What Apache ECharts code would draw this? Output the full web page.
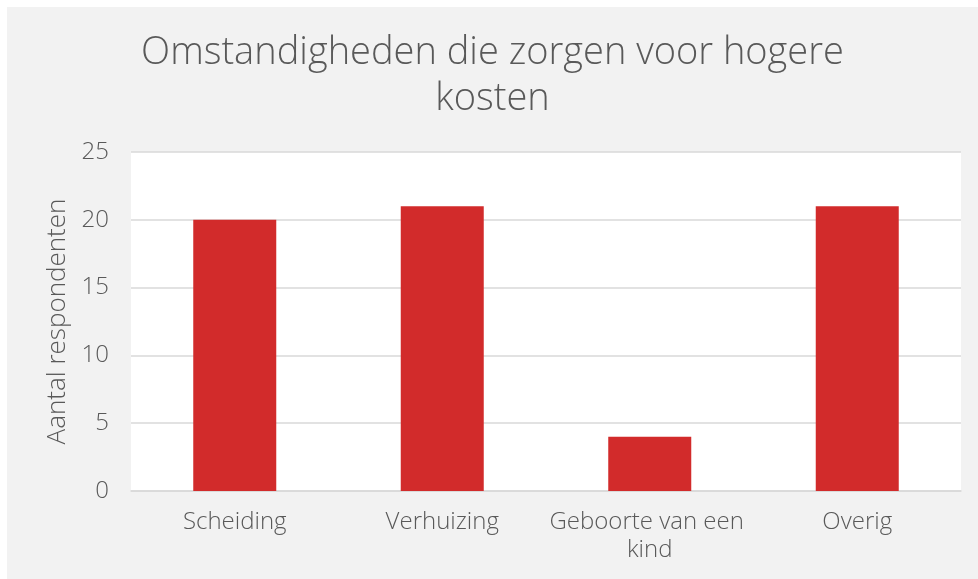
<!DOCTYPE html>
<html>
<head>
<meta charset="utf-8">
<script src="https://cdn.jsdelivr.net/npm/echarts@6/dist/echarts.min.js"></script>
<style>
  html, body { margin: 0; padding: 0; background: #ffffff; }
  #chart { position: absolute; left: 7px; top: 7px; width: 971px; height: 572px; background: #f2f2f2; }
</style>
</head>
<body>
<div id="chart"></div>
<script>
// data
var categories = ['Scheiding', 'Verhuizing', 'Geboorte van een kind', 'Overig'];
var counts = [20, 21, 4, 21];
var titleText = 'Omstandigheden die zorgen voor hogere\nkosten';
var yName = 'Aantal respondenten';

var myChart = echarts.init(document.getElementById('chart'));
var textColor = '#595959';
var font = 'Open Sans';
var option = {
  backgroundColor: '#f2f2f2',
  textStyle: { fontFamily: font },
  title: {
    text: titleText,
    left: 'center',
    top: 18,
    textStyle: {
      fontFamily: font,
      fontSize: 38,
      fontWeight: 300,
      color: textColor,
      lineHeight: 46
    }
  },
  grid: {
    left: 124,
    right: 17,
    top: 145,
    bottom: 88,
    show: true,
    backgroundColor: '#ffffff',
    borderWidth: 0
  },
  xAxis: {
    type: 'category',
    data: categories,
    axisLine: { lineStyle: { color: '#d9d9d9', width: 1.5 } },
    axisTick: { show: false },
    axisLabel: {
      color: textColor,
      fontSize: 24,
      fontWeight: 300,
      margin: 17,
      lineHeight: 28,
      width: 205,
      overflow: 'break',
      interval: 0
    }
  },
  yAxis: {
    type: 'value',
    min: 0,
    max: 25,
    interval: 5,
    name: yName,
    nameLocation: 'middle',
    nameGap: 55,
    nameTextStyle: { color: textColor, fontSize: 26, fontWeight: 300 },
    axisLine: { show: false },
    axisTick: { show: false },
    axisLabel: { color: textColor, fontSize: 24, fontWeight: 300, margin: 22 },
    splitLine: { lineStyle: { color: '#d9d9d9', width: 1.5 } }
  },
  series: [{
    type: 'bar',
    data: counts,
    barWidth: '40%',
    itemStyle: { color: '#d22b2b' },
    silent: true
  }]
};
myChart.setOption(option);
</script>
</body>
</html>
